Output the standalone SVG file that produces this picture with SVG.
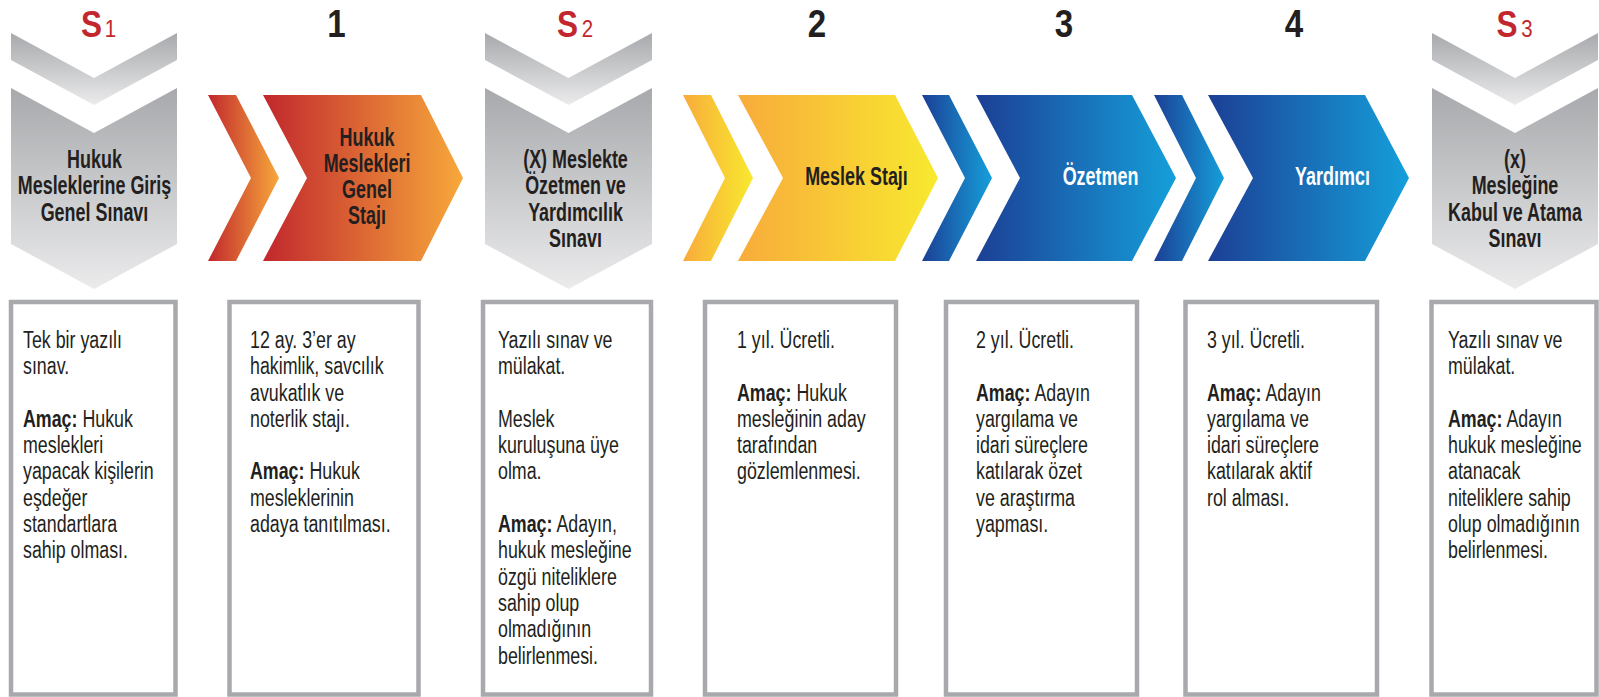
<svg xmlns="http://www.w3.org/2000/svg" width="1599" height="697" viewBox="0 0 1599 697">
<defs>
<linearGradient id="gGray" x1="0" y1="0" x2="0" y2="1"><stop offset="0" stop-color="#a7a9ac"/><stop offset="1" stop-color="#ebebec"/></linearGradient>
<linearGradient id="gOrange" x1="0" y1="0" x2="1" y2="0"><stop offset="0" stop-color="#c1272d"/><stop offset="1" stop-color="#f7a83b"/></linearGradient>
<linearGradient id="gYellow" x1="0" y1="0" x2="1" y2="0"><stop offset="0" stop-color="#f8ab3b"/><stop offset="1" stop-color="#f8e92f"/></linearGradient>
<linearGradient id="gBlue" x1="0" y1="0" x2="1" y2="0"><stop offset="0" stop-color="#1c3f95"/><stop offset="1" stop-color="#159fda"/></linearGradient>
<style>
.t{font-family:"Liberation Sans",Arial,sans-serif;font-weight:bold;font-size:26px;fill:#231f20;text-anchor:middle}
.w{fill:#ffffff}
.b{font-family:"Liberation Sans",Arial,sans-serif;font-size:23px;fill:#231f20}
.k{font-weight:bold}
.num{font-family:"Liberation Sans",Arial,sans-serif;font-weight:bold;font-size:39px;fill:#231f20;text-anchor:middle}
.sl{font-family:"Liberation Sans",Arial,sans-serif;font-weight:bold;font-size:37.5px;fill:#c1272d;text-anchor:middle}
.ss{font-family:"Liberation Sans",Arial,sans-serif;font-size:24px;fill:#c1272d;text-anchor:middle}
.box{fill:#ffffff;stroke:#a7a9ac;stroke-width:4.5}
</style>
</defs>
<rect width="1599" height="697" fill="#ffffff"/>

<!-- small lead-in chevrons -->
<g id="connectors">
<polygon fill="url(#gGray)" points="11,33 94,78 177,33 177,60 94,105 11,60"/>
<polygon fill="url(#gGray)" points="485,33 568.5,78 652,33 652,60 568.5,105 485,60"/>
<polygon fill="url(#gGray)" points="1432,33 1515,78 1598,33 1598,60 1515,105 1432,60"/>
<polygon fill="url(#gOrange)" points="208,95 236,95 279,178 236,261 208,261 251,178"/>
<polygon fill="url(#gYellow)" points="683,95 711,95 753,178 711,261 683,261 725,178"/>
<polygon fill="url(#gBlue)" points="922,95 949,95 992,178 949,261 922,261 965,178"/>
<polygon fill="url(#gBlue)" points="1154,95 1182,95 1224,178 1182,261 1154,261 1196,178"/>
</g>

<!-- S1 -->
<g id="s1">
<g transform="translate(91.5,0) scale(0.84,1)"><text class="sl" x="0" y="37">S</text></g>
<g transform="translate(110.5,0) scale(0.85,1)"><text class="ss" x="0" y="37">1</text></g>
<polygon fill="url(#gGray)" points="11,88 94,133 177,88 177,244 94,289 11,244"/>
<g transform="translate(94.5,0) scale(0.69,1)">
<text class="t" x="0" y="168">Hukuk</text>
<text class="t" x="0" y="194.5">Mesleklerine Giriş</text>
<text class="t" x="0" y="221">Genel Sınavı</text>
</g>
<rect class="box" x="11" y="302" width="164.5" height="392.5"/>
<g transform="translate(23,0) scale(0.775,1)">
<text class="b" x="0" y="348">Tek bir yazılı</text>
<text class="b" x="0" y="374.3">sınav.</text>
<text class="b" x="0" y="426.9"><tspan class="k">Amaç:</tspan> Hukuk</text>
<text class="b" x="0" y="453.2">meslekleri</text>
<text class="b" x="0" y="479.5">yapacak kişilerin</text>
<text class="b" x="0" y="505.8">eşdeğer</text>
<text class="b" x="0" y="532.1">standartlara</text>
<text class="b" x="0" y="558.4">sahip olması.</text>
</g>
</g>

<!-- Step 1 -->
<g id="step1">
<g transform="translate(336.5,0) scale(0.85,1)"><text class="num" x="0" y="37">1</text></g>
<polygon fill="url(#gOrange)" points="263,95 421,95 463,178 421,261 263,261 307,178"/>
<g transform="translate(367,0) scale(0.69,1)">
<text class="t" x="0" y="146">Hukuk</text>
<text class="t" x="0" y="172">Meslekleri</text>
<text class="t" x="0" y="198.5">Genel</text>
<text class="t" x="0" y="224.5">Stajı</text>
</g>
<rect class="box" x="229.5" y="302" width="189" height="392.5"/>
<g transform="translate(250,0) scale(0.775,1)">
<text class="b" x="0" y="348">12 ay. 3’er ay</text>
<text class="b" x="0" y="374.3">hakimlik, savcılık</text>
<text class="b" x="0" y="400.6">avukatlık ve</text>
<text class="b" x="0" y="426.9">noterlik stajı.</text>
<text class="b" x="0" y="479.5"><tspan class="k">Amaç:</tspan> Hukuk</text>
<text class="b" x="0" y="505.8">mesleklerinin</text>
<text class="b" x="0" y="532.1">adaya tanıtılması.</text>
</g>
</g>

<!-- S2 -->
<g id="s2">
<g transform="translate(567.5,0) scale(0.84,1)"><text class="sl" x="0" y="37">S</text></g>
<g transform="translate(587.5,0) scale(0.85,1)"><text class="ss" x="0" y="37">2</text></g>
<polygon fill="url(#gGray)" points="485,88 568.5,133 652,88 652,244 568.5,289 485,244"/>
<g transform="translate(575.5,0) scale(0.69,1)">
<text class="t" x="0" y="168">(X) Meslekte</text>
<text class="t" x="0" y="194.5">Özetmen ve</text>
<text class="t" x="0" y="221">Yardımcılık</text>
<text class="t" x="0" y="247.5">Sınavı</text>
</g>
<rect class="box" x="483" y="302" width="168" height="392.5"/>
<g transform="translate(498,0) scale(0.775,1)">
<text class="b" x="0" y="348">Yazılı sınav ve</text>
<text class="b" x="0" y="374.3">mülakat.</text>
<text class="b" x="0" y="426.9">Meslek</text>
<text class="b" x="0" y="453.2">kuruluşuna üye</text>
<text class="b" x="0" y="479.5">olma.</text>
<text class="b" x="0" y="532.1"><tspan class="k">Amaç:</tspan> Adayın,</text>
<text class="b" x="0" y="558.4">hukuk mesleğine</text>
<text class="b" x="0" y="584.7">özgü niteliklere</text>
<text class="b" x="0" y="611">sahip olup</text>
<text class="b" x="0" y="637.3">olmadığının</text>
<text class="b" x="0" y="663.6">belirlenmesi.</text>
</g>
</g>

<!-- Step 2 -->
<g id="step2">
<g transform="translate(817,0) scale(0.85,1)"><text class="num" x="0" y="37">2</text></g>
<polygon fill="url(#gYellow)" points="738,95 895,95 938,178 895,261 738,261 783,178"/>
<g transform="translate(856.5,0) scale(0.69,1)">
<text class="t" x="0" y="185">Meslek Stajı</text>
</g>
<rect class="box" x="705" y="302" width="191" height="392.5"/>
<g transform="translate(737,0) scale(0.775,1)">
<text class="b" x="0" y="348">1 yıl. Ücretli.</text>
<text class="b" x="0" y="400.6"><tspan class="k">Amaç:</tspan> Hukuk</text>
<text class="b" x="0" y="426.9">mesleğinin aday</text>
<text class="b" x="0" y="453.2">tarafından</text>
<text class="b" x="0" y="479.5">gözlemlenmesi.</text>
</g>
</g>

<!-- Step 3 -->
<g id="step3">
<g transform="translate(1064,0) scale(0.85,1)"><text class="num" x="0" y="37">3</text></g>
<polygon fill="url(#gBlue)" points="976,95 1132,95 1176,178 1132,261 976,261 1020,178"/>
<g transform="translate(1100.5,0) scale(0.69,1)">
<text class="t w" x="0" y="185.5">Özetmen</text>
</g>
<rect class="box" x="946" y="302" width="191" height="392.5"/>
<g transform="translate(976,0) scale(0.775,1)">
<text class="b" x="0" y="348">2 yıl. Ücretli.</text>
<text class="b" x="0" y="400.6"><tspan class="k">Amaç:</tspan> Adayın</text>
<text class="b" x="0" y="426.9">yargılama ve</text>
<text class="b" x="0" y="453.2">idari süreçlere</text>
<text class="b" x="0" y="479.5">katılarak özet</text>
<text class="b" x="0" y="505.8">ve araştırma</text>
<text class="b" x="0" y="532.1">yapması.</text>
</g>
</g>

<!-- Step 4 -->
<g id="step4">
<g transform="translate(1294,0) scale(0.85,1)"><text class="num" x="0" y="37">4</text></g>
<polygon fill="url(#gBlue)" points="1208,95 1365,95 1409,178 1365,261 1208,261 1253,178"/>
<g transform="translate(1332.5,0) scale(0.69,1)">
<text class="t w" x="0" y="185">Yardımcı</text>
</g>
<rect class="box" x="1185.5" y="302" width="191.5" height="392.5"/>
<g transform="translate(1207,0) scale(0.775,1)">
<text class="b" x="0" y="348">3 yıl. Ücretli.</text>
<text class="b" x="0" y="400.6"><tspan class="k">Amaç:</tspan> Adayın</text>
<text class="b" x="0" y="426.9">yargılama ve</text>
<text class="b" x="0" y="453.2">idari süreçlere</text>
<text class="b" x="0" y="479.5">katılarak aktif</text>
<text class="b" x="0" y="505.8">rol alması.</text>
</g>
</g>

<!-- S3 -->
<g id="s3">
<g transform="translate(1507,0) scale(0.84,1)"><text class="sl" x="0" y="37">S</text></g>
<g transform="translate(1527,0) scale(0.85,1)"><text class="ss" x="0" y="37">3</text></g>
<polygon fill="url(#gGray)" points="1432,88 1515,133 1598,88 1598,244 1515,289 1432,244"/>
<g transform="translate(1515,0) scale(0.69,1)">
<text class="t" x="0" y="168">(x)</text>
<text class="t" x="0" y="194.5">Mesleğine</text>
<text class="t" x="0" y="221">Kabul ve Atama</text>
<text class="t" x="0" y="247.5">Sınavı</text>
</g>
<rect class="box" x="1431.5" y="302" width="165" height="392.5"/>
<g transform="translate(1448,0) scale(0.775,1)">
<text class="b" x="0" y="348">Yazılı sınav ve</text>
<text class="b" x="0" y="374.3">mülakat.</text>
<text class="b" x="0" y="426.9"><tspan class="k">Amaç:</tspan> Adayın</text>
<text class="b" x="0" y="453.2">hukuk mesleğine</text>
<text class="b" x="0" y="479.5">atanacak</text>
<text class="b" x="0" y="505.8">niteliklere sahip</text>
<text class="b" x="0" y="532.1">olup olmadığının</text>
<text class="b" x="0" y="558.4">belirlenmesi.</text>
</g>
</g>
</svg>
